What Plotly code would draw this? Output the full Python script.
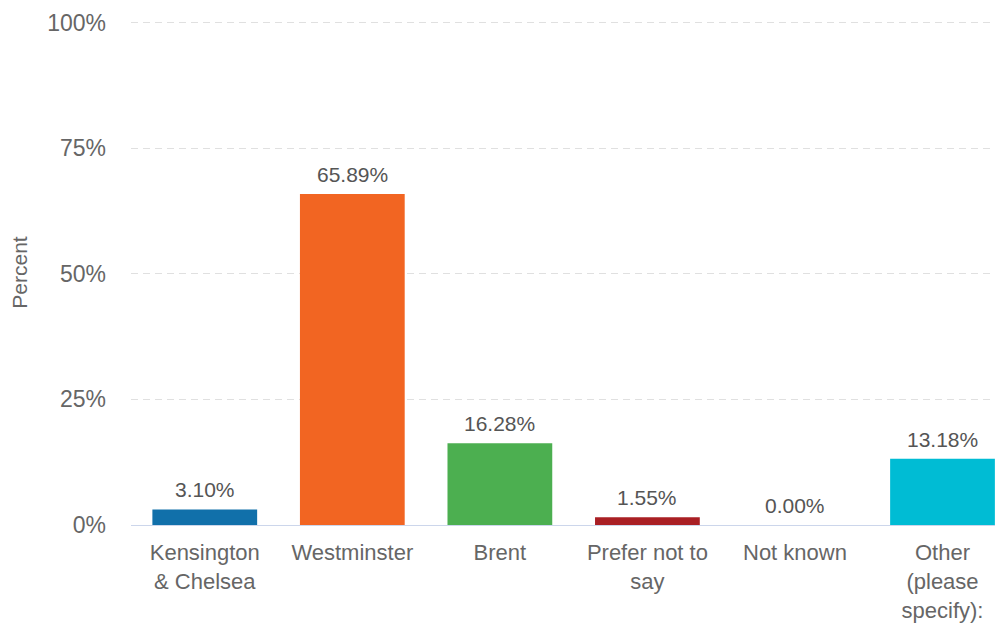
import plotly.graph_objects as go

categories = ["Kensington<br>& Chelsea", "Westminster", "Brent", "Prefer not to<br>say", "Not known", "Other<br>(please<br>specify):"]
values = [3.10, 65.89, 16.28, 1.55, 0.00, 13.18]
colors = ["#1170aa", "#f26522", "#4caf50", "#a91f24", "#7f7f7f", "#00bcd4"]
tick_vals = [0, 25, 50, 75, 100]
tick_text = ["0%", "25%", "50%", "75%", "100%"]

font_family = "Liberation Sans, Arial, sans-serif"

fig = go.Figure()
fig.add_trace(go.Bar(
    x=list(range(len(categories))),
    y=values,
    marker=dict(color=colors, line=dict(width=0)),
    width=0.71,
    hoverinfo="skip",
))

for i, v in enumerate(values):
    fig.add_annotation(
        x=i, y=v, xref="x", yref="y",
        text=f"{v:.2f}%",
        showarrow=False,
        yanchor="bottom",
        yshift=6,
        font=dict(family=font_family, size=21, color="#555555"),
    )

fig.update_layout(
    width=1003, height=624,
    margin=dict(l=123, r=8, t=12, b=107, autoexpand=False),
    paper_bgcolor="white",
    plot_bgcolor="white",
    showlegend=False,
    font=dict(family=font_family, color="#666666"),
)
fig.update_xaxes(
    range=[-0.5, 5.41],
    tickmode="array",
    tickvals=list(range(len(categories))),
    ticktext=categories,
    tickfont=dict(size=22, color="#666666"),
    showgrid=False,
    showline=True,
    linecolor="#ccd6eb",
    linewidth=1,
    ticks="",
    ticklabelstandoff=8,
    fixedrange=True,
    automargin=False,
)
fig.update_yaxes(
    range=[0, 100.5],
    tickmode="array",
    tickvals=tick_vals,
    ticktext=tick_text,
    tickfont=dict(size=23, color="#666666"),
    showgrid=True,
    gridcolor="#e0e0e0",
    griddash="7px,5px",
    gridwidth=1,
    zeroline=True,
    zerolinecolor="#ccd6eb",
    zerolinewidth=1,
    ticks="",
    ticklabelstandoff=24,
    title=dict(text="Percent", font=dict(size=21, color="#666666"), standoff=14),
    automargin=False,
    fixedrange=True,
)

fig.write_html("out.html")
